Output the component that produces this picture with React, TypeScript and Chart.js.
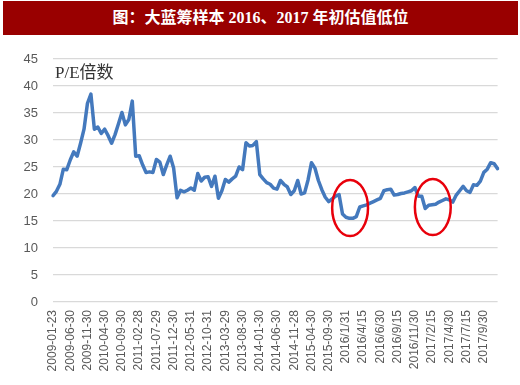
import React, { useEffect, useRef } from "react";
import { Chart, registerables } from "chart.js";

Chart.register(...registerables);

const TITLE = "图：大蓝筹样本 2016、2017 年初估值低位";
const AXIS_NOTE = "P/E倍数";

// tick labels (one every 5 data points)
const tickLabels = [
  "2009-01-23", "2009-06-30", "2009-11-30", "2010-04-30", "2010-09-30",
  "2011-02-28", "2011-07-29", "2011-12-30", "2012-05-31", "2012-10-31",
  "2013-03-29", "2013-08-30", "2014-01-30", "2014-06-30", "2014-11-28",
  "2015-04-30", "2015-09-30", "2016/1/31", "2016/4/15", "2016/6/30",
  "2016/9/15", "2016/11/30", "2017/2/15", "2017/4/30", "2017/7/15",
  "2017/9/30",
];

// P/E values
const peValues = [
  19.7, 20.5, 21.8, 24.6, 24.5, 26.3, 27.8, 27.0, 29.4, 32.0,
  36.8, 38.5, 32.0, 32.4, 31.2, 32.0, 30.8, 29.4, 31.0, 33.0,
  35.1, 32.8, 33.8, 37.2, 27.0, 27.1, 25.4, 24.0, 24.1, 24.0,
  26.4, 25.9, 23.6, 25.4, 27.0, 24.8, 19.3, 20.7, 20.4, 20.7,
  21.1, 20.7, 23.8, 22.4, 23.1, 23.2, 21.4, 23.3, 19.2, 20.6,
  22.7, 22.2, 22.8, 23.3, 25.0, 24.5, 29.5, 28.9, 29.0, 29.7,
  23.6, 22.8, 22.1, 21.8, 21.1, 20.9, 22.5, 21.8, 21.3, 19.9,
  20.6, 22.5, 20.0, 20.2, 22.6, 25.8, 24.8, 22.5, 20.8, 19.4,
  18.6, 19.1, 19.6, 19.9, 16.3, 15.7, 15.5, 15.5, 15.8, 17.6,
  17.8, 18.0, 18.3, 18.6, 18.9, 19.2, 20.6, 20.8, 20.9, 19.8,
  19.9, 20.1, 20.2, 20.4, 20.6, 21.2, 19.6, 19.6, 17.3, 17.9,
  18.0, 18.1, 18.5, 18.8, 19.1, 18.9, 18.5, 19.8, 20.6, 21.4,
  20.6, 20.3, 21.7, 21.6, 22.4, 24.0, 24.6, 25.8, 25.6, 24.7,
];

// highlighted lows: [center index, center value, half-width (points), half-height (P/E)]
const circleCenters = [86.2, 110.2];
const circleValues = [17.4, 17.6];
const circleHalfWidth = [5.2, 5.2];
const circleHalfHeight = [5.2, 5.2];

const categories = peValues.map((_, i) => (i % 5 === 0 ? tickLabels[i / 5] ?? "" : ""));

const overlayPlugin = {
  id: "overlay",
  afterDatasetsDraw(chart: any) {
    const { ctx, scales } = chart;
    const x = scales.x;
    const y = scales.y;
    ctx.save();
    ctx.strokeStyle = "#e8000b";
    ctx.lineWidth = 2.5;
    for (let k = 0; k < circleCenters.length; k++) {
      const cx = x.getPixelForValue(circleCenters[k]);
      const cy = y.getPixelForValue(circleValues[k]);
      const rx = Math.abs(x.getPixelForValue(circleCenters[k] + circleHalfWidth[k]) - cx);
      const ry = Math.abs(y.getPixelForValue(circleValues[k] + circleHalfHeight[k]) - cy);
      ctx.beginPath();
      ctx.ellipse(cx, cy, rx, ry, 0, 0, Math.PI * 2);
      ctx.stroke();
    }
    ctx.fillStyle = "#333333";
    ctx.font = '17px "Liberation Serif", "Noto Sans CJK SC", serif';
    ctx.textBaseline = "middle";
    ctx.textAlign = "left";
    ctx.fillText(AXIS_NOTE, chart.chartArea.left + 2, y.getPixelForValue(42.4));
    ctx.restore();
  },
};

export default function App() {
  const ref = useRef<HTMLCanvasElement | null>(null);
  useEffect(() => {
    if (!ref.current) return;
    const chart = new Chart(ref.current, {
      type: "line",
      data: {
        labels: categories,
        datasets: [
          {
            data: peValues,
            borderColor: "#4479bd",
            borderWidth: 3.5,
            pointRadius: 0,
            tension: 0,
            borderJoinStyle: "round",
            borderCapStyle: "round",
            fill: false,
          },
        ],
      },
      options: {
        animation: false,
        responsive: false,
        maintainAspectRatio: false,
        layout: { padding: { left: 0, right: 21, top: 23, bottom: 0 } },
        plugins: {
          legend: { display: false },
          tooltip: { enabled: false },
          title: { display: false },
        },
        scales: {
          x: {
            type: "category",
            offset: false,
            grid: { display: false, drawTicks: false },
            border: { display: false },
            ticks: {
              autoSkip: false,
              minRotation: 90,
              maxRotation: 90,
              padding: 8,
              color: "#595959",
              font: { family: '"Liberation Sans", Arial, sans-serif', size: 12 },
            },
            afterFit(scale: any) {
              scale.height = 83;
            },
          },
          y: {
            min: 0,
            max: 45,
            grid: { color: "#d9d9d9", lineWidth: 1.2, drawTicks: false },
            border: { display: false },
            ticks: {
              stepSize: 5,
              padding: 15,
              color: "#595959",
              font: { family: '"Liberation Sans", Arial, sans-serif', size: 13 },
            },
            afterFit(scale: any) {
              scale.width = 53;
            },
          },
        },
      },
      plugins: [overlayPlugin],
    });
    return () => chart.destroy();
  }, []);

  return (
    <div style={{ position: "absolute", left: 0, top: 0, width: 520, height: 385, background: "#ffffff" }}>
      <div
        style={{
          position: "absolute",
          left: 3,
          top: 1,
          width: 515,
          height: 34,
          background: "#990000",
          color: "#ffffff",
          fontFamily: '"Liberation Serif", "Noto Sans CJK SC", serif',
          fontWeight: "bold",
          fontSize: 16,
          lineHeight: "34px",
          textAlign: "center",
        }}
      >
        {TITLE}
      </div>
      <canvas
        ref={ref}
        width={520}
        height={349}
        style={{ position: "absolute", left: 0, top: 36, width: 520, height: 349 }}
      />
    </div>
  );
}
